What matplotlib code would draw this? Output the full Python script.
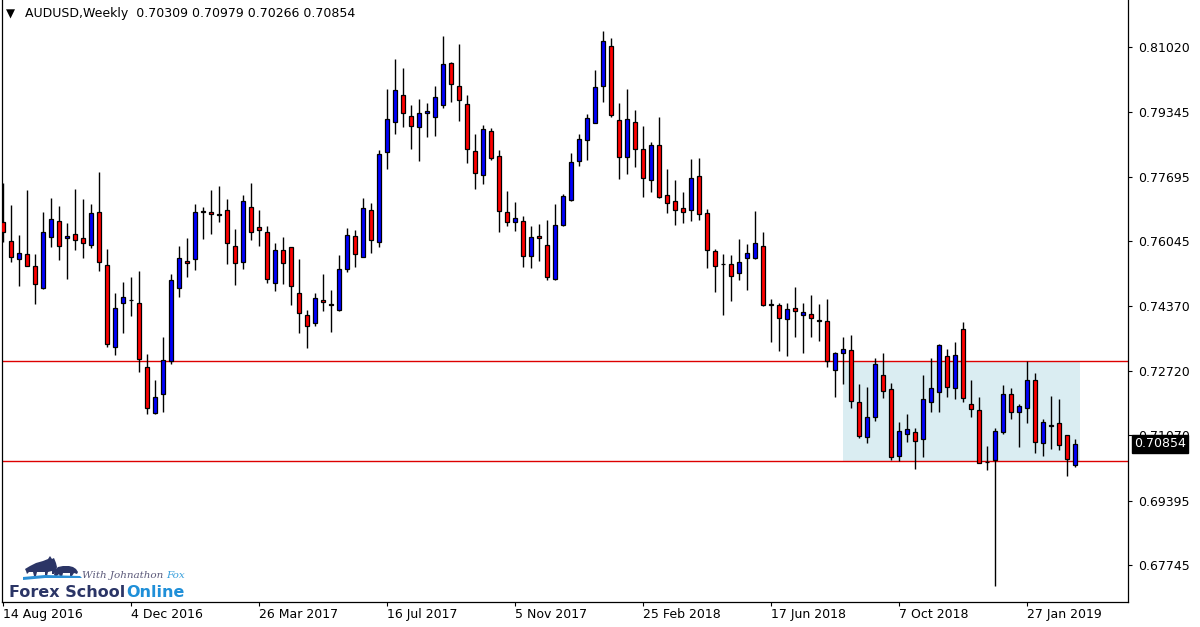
import matplotlib
matplotlib.use("Agg")
import matplotlib.pyplot as plt
import matplotlib.transforms as mtransforms
from matplotlib.patches import Rectangle, Polygon

# AUDUSD weekly candles, one per week starting 14 Aug 2016
opens = [
    0.7654, 0.7605, 0.7559, 0.7571, 0.7541, 0.7484, 0.7615, 0.7656, 0.7613, 0.7623,
    0.7613, 0.7595, 0.7679, 0.7543, 0.7333, 0.7446, 0.7454, 0.7446, 0.7282, 0.7164,
    0.7213, 0.7297, 0.7484, 0.7554, 0.7559, 0.7682, 0.7679, 0.7674, 0.7684, 0.7592,
    0.7551, 0.7692, 0.7641, 0.7628, 0.7497, 0.7582, 0.7590, 0.7472, 0.7415, 0.7395,
    0.7454, 0.7443, 0.7428, 0.7533, 0.7618, 0.7564, 0.7684, 0.7602, 0.7833, 0.7910,
    0.7979, 0.7925, 0.7897, 0.7933, 0.7923, 0.7953, 0.8061, 0.8002, 0.7956, 0.7835,
    0.7774, 0.7887, 0.7823, 0.7679, 0.7654, 0.7656, 0.7566, 0.7618, 0.7595, 0.7507,
    0.7646, 0.7710, 0.7810, 0.7864, 0.7907, 0.8002, 0.8105, 0.7915, 0.7820, 0.7910,
    0.7841, 0.7761, 0.7851, 0.7723, 0.7707, 0.7689, 0.7684, 0.7771, 0.7677, 0.7579,
    0.7546, 0.7546, 0.7523, 0.7561, 0.7561, 0.7592, 0.7443, 0.7441, 0.7405, 0.7433,
    0.7415, 0.7418, 0.7402, 0.7400, 0.7274, 0.7318, 0.7325, 0.7192, 0.7102, 0.7154,
    0.7261, 0.7226, 0.7054, 0.7110, 0.7115, 0.7097, 0.7192, 0.7218, 0.7310, 0.7228,
    0.7379, 0.7187, 0.7172, 0.7038, 0.7044, 0.7115, 0.7213, 0.7167, 0.7177, 0.7249,
    0.7087, 0.7133, 0.7138, 0.7108, 0.70309,
]
highs = [
    0.7753, 0.7697, 0.7620, 0.7736, 0.7571, 0.7679, 0.7715, 0.7695, 0.7651, 0.7738,
    0.7712, 0.7700, 0.7782, 0.7584, 0.7472, 0.7500, 0.7513, 0.7528, 0.7315, 0.7249,
    0.7359, 0.7520, 0.7592, 0.7613, 0.7700, 0.7692, 0.7736, 0.7746, 0.7712, 0.7636,
    0.7723, 0.7753, 0.7684, 0.7643, 0.7600, 0.7615, 0.7590, 0.7559, 0.7428, 0.7472,
    0.7520, 0.7479, 0.7569, 0.7638, 0.7633, 0.7715, 0.7702, 0.7838, 0.7994, 0.8071,
    0.8048, 0.7953, 0.7969, 0.7959, 0.8002, 0.8130, 0.8064, 0.8110, 0.7979, 0.7879,
    0.7902, 0.7894, 0.7838, 0.7733, 0.7705, 0.7669, 0.7643, 0.7648, 0.7659, 0.7700,
    0.7725, 0.7830, 0.7879, 0.7930, 0.8043, 0.8143, 0.8125, 0.7959, 0.7994, 0.7941,
    0.7900, 0.7859, 0.7923, 0.7789, 0.7761, 0.7730, 0.7815, 0.7818, 0.7687, 0.7584,
    0.7571, 0.7569, 0.7610, 0.7597, 0.7682, 0.7628, 0.7456, 0.7446, 0.7446, 0.7487,
    0.7446, 0.7466, 0.7443, 0.7456, 0.7320, 0.7359, 0.7364, 0.7238, 0.7231, 0.7305,
    0.7318, 0.7241, 0.7141, 0.7161, 0.7126, 0.7261, 0.7305, 0.7341, 0.7328, 0.7346,
    0.7397, 0.7249, 0.7205, 0.7079, 0.7126, 0.7236, 0.7228, 0.7187, 0.7297, 0.7267,
    0.7149, 0.7208, 0.7200, 0.7108, 0.70979,
]
lows = [
    0.7602, 0.7551, 0.7490, 0.7540, 0.7443, 0.7482, 0.7590, 0.7556, 0.7507, 0.7582,
    0.7561, 0.7587, 0.7528, 0.7333, 0.7313, 0.7369, 0.7413, 0.7269, 0.7161, 0.7161,
    0.7167, 0.7290, 0.7461, 0.7513, 0.7531, 0.7610, 0.7623, 0.7654, 0.7546, 0.7492,
    0.7533, 0.7607, 0.7592, 0.7497, 0.7477, 0.7495, 0.7441, 0.7369, 0.7331, 0.7387,
    0.7425, 0.7372, 0.7425, 0.7525, 0.7538, 0.7563, 0.7574, 0.7590, 0.7789, 0.7879,
    0.7897, 0.7841, 0.7810, 0.7871, 0.7874, 0.7946, 0.7961, 0.7912, 0.7805, 0.7738,
    0.7751, 0.7812, 0.7628, 0.7643, 0.7630, 0.7538, 0.7536, 0.7554, 0.7505, 0.7506,
    0.7643, 0.7707, 0.7797, 0.7812, 0.7906, 0.7961, 0.7923, 0.7764, 0.7777, 0.7795,
    0.7718, 0.7730, 0.7715, 0.7677, 0.7646, 0.7651, 0.7656, 0.7659, 0.7536, 0.7474,
    0.7415, 0.7451, 0.7505, 0.7479, 0.7559, 0.7438, 0.7346, 0.7323, 0.7310, 0.7359,
    0.7318, 0.7359, 0.7349, 0.7282, 0.7205, 0.7238, 0.7177, 0.7100, 0.7087, 0.7143,
    0.7202, 0.7044, 0.7041, 0.7090, 0.7020, 0.7051, 0.7167, 0.7167, 0.7205, 0.7200,
    0.7192, 0.7154, 0.7035, 0.7018, 0.6721, 0.7110, 0.7149, 0.7077, 0.7138, 0.7061,
    0.7054, 0.7072, 0.7069, 0.7003, 0.70266,
]
closes = [
    0.7628, 0.7564, 0.7574, 0.7541, 0.7495, 0.7628, 0.7661, 0.7592, 0.7618, 0.7607,
    0.7600, 0.7677, 0.7551, 0.7341, 0.7433, 0.7461, 0.7454, 0.7302, 0.7177, 0.7205,
    0.7300, 0.7505, 0.7561, 0.7548, 0.7679, 0.7679, 0.7674, 0.7672, 0.7600, 0.7548,
    0.7707, 0.7628, 0.7633, 0.7507, 0.7582, 0.7548, 0.7490, 0.7420, 0.7387, 0.7459,
    0.7449, 0.7441, 0.7533, 0.7620, 0.7571, 0.7689, 0.7607, 0.7828, 0.7918, 0.7992,
    0.7933, 0.7900, 0.7933, 0.7938, 0.7974, 0.8058, 0.8007, 0.7966, 0.7841, 0.7779,
    0.7892, 0.7818, 0.7682, 0.7654, 0.7664, 0.7566, 0.7615, 0.7613, 0.7513, 0.7646,
    0.7720, 0.7807, 0.7866, 0.7920, 0.8000, 0.8117, 0.7928, 0.7820, 0.7918, 0.7841,
    0.7766, 0.7851, 0.7718, 0.7702, 0.7684, 0.7679, 0.7766, 0.7674, 0.7582, 0.7541,
    0.7546, 0.7515, 0.7551, 0.7574, 0.7600, 0.7441, 0.7441, 0.7408, 0.7431, 0.7425,
    0.7423, 0.7408, 0.7400, 0.7297, 0.7318, 0.7328, 0.7195, 0.7105, 0.7154, 0.7290,
    0.7220, 0.7051, 0.7118, 0.7123, 0.7092, 0.7200, 0.7228, 0.7338, 0.7231, 0.7313,
    0.7202, 0.7174, 0.7036, 0.7038, 0.7118, 0.7213, 0.7167, 0.7182, 0.7249, 0.7090,
    0.7141, 0.7131, 0.7082, 0.7046, 0.70854,
]

date_labels = ["14 Aug 2016", "4 Dec 2016", "26 Mar 2017", "16 Jul 2017", "5 Nov 2017",
               "25 Feb 2018", "17 Jun 2018", "7 Oct 2018", "27 Jan 2019"]
date_label_bars = [0, 16, 32, 48, 64, 80, 96, 112, 128]
price_ticks = [0.81020, 0.79345, 0.77695, 0.76045, 0.74370, 0.72720, 0.71070, 0.69395, 0.67745]

title_text = "AUDUSD,Weekly  0.70309 0.70979 0.70266 0.70854"
last_price = 0.70854
zone_top = 0.7297
zone_bottom = 0.7041
zone_first_bar, zone_last_bar = 105, 134

BULL = "#0000ff"
BEAR = "#ff0000"
LEVEL = "#dd0000"
ZONE = "#daedf2"

W, H = 1200, 627
fig = plt.figure(figsize=(W / 100, H / 100), dpi=100)
fig.patch.set_facecolor("white")
ax = fig.add_axes([2 / W, 25 / H, 1126 / W, 602 / H])

n = len(opens)
xs = list(range(n))

# support / resistance zone
ax.add_patch(Rectangle((zone_first_bar, zone_bottom), zone_last_bar + 0.6 - zone_first_bar,
                       zone_top - zone_bottom, facecolor=ZONE, edgecolor="none", zorder=0))
for lvl in (zone_top, zone_bottom):
    ax.axhline(lvl, color=LEVEL, lw=1.0, zorder=1)

# candles
ax.vlines(xs, lows, highs, color="black", lw=1.0, zorder=2)
bottoms = [min(o, c) for o, c in zip(opens, closes)]
heights = [max(abs(c - o), 0.00003) for o, c in zip(opens, closes)]
colors = [BULL if c >= o else BEAR for o, c in zip(opens, closes)]
ax.bar(xs, heights, bottom=bottoms, width=0.55, color=colors, edgecolor="black",
       linewidth=0.9, zorder=3)

ax.set_xlim(-0.1625, 140.59)
ax.set_ylim(0.66796, 0.82225)

# axes frame like the terminal
ax.spines["top"].set_visible(False)
for side in ("left", "right", "bottom"):
    ax.spines[side].set_linewidth(0.9)

ax.yaxis.tick_right()
ax.set_yticks(price_ticks)
ax.set_yticklabels([f"{p:.5f}" for p in price_ticks])
ax.tick_params(axis="y", direction="out", length=3, width=0.8, pad=4, labelsize=9)

ax.set_xticks(date_label_bars)
ax.set_xticklabels(date_labels)
for lab in ax.get_xticklabels():
    lab.set_horizontalalignment("left")
ax.tick_params(axis="x", direction="out", length=3, width=0.8, pad=1.5, labelsize=9)

# last price marker on the price scale
trans = mtransforms.blended_transform_factory(ax.transAxes, ax.transData)
ax.annotate(f"{last_price:.5f}", xy=(1, last_price), xycoords=trans, xytext=(6, 0),
            textcoords="offset pixels", ha="left", va="center", color="white", fontsize=9,
            bbox=dict(boxstyle="square,pad=0.2", fc="black", ec="black"),
            annotation_clip=False, zorder=10)

# header
fig.text(6 / W, 1 - 14 / H, "\u25bc", fontsize=8.5, va="center", ha="left")
fig.text(25 / W, 1 - 14 / H, title_text, fontsize=9, va="center", ha="left")

# watermark logo
bull = [(25, 569), (30, 566), (36, 563), (43, 561), (48, 559), (50, 556), (52, 559), (54, 558),
        (56, 563), (57, 567), (56, 571), (54, 574), (52, 574), (52, 571), (48, 572), (47, 576),
        (45, 576), (45, 572), (37, 572), (36, 576), (34, 576), (33, 572), (29, 572), (27, 574),
        (26, 571)]
bear = [(54, 575), (55, 570), (58, 567), (63, 566), (69, 566), (73, 567), (76, 569), (78, 572),
        (77, 574), (74, 573), (72, 576), (70, 576), (70, 573), (63, 573), (62, 577), (60, 577),
        (59, 574), (56, 577)]
swoosh = [(23, 577), (45, 575), (80, 576), (82, 578), (45, 578), (23, 580)]
for pts, col in ((bull, "#2b3566"), (bear, "#2b3566"), (swoosh, "#2a8fd6")):
    fig.patches.append(Polygon([(x / W, 1 - y / H) for x, y in pts], closed=True,
                               transform=fig.transFigure, facecolor=col, edgecolor="none"))
t1 = fig.text(9 / W, 1 - 597 / H, "Forex School", fontsize=11.5, fontweight="bold",
              color="#2b3566", ha="left", va="baseline")
fig.canvas.draw()
bb = t1.get_window_extent()
fig.text(bb.x1 / W + 1 / W, 1 - 597 / H, "Online", fontsize=11.5, fontweight="bold",
         color="#1f8fd8", ha="left", va="baseline")
t2 = fig.text(82 / W, 1 - 578 / H, "With Johnathon", fontsize=7.5, style="italic",
              family="DejaVu Serif", color="#5c5a7a", ha="left", va="baseline")
fig.canvas.draw()
bb2 = t2.get_window_extent()
fig.text(bb2.x1 / W + 3 / W, 1 - 578 / H, "Fox", fontsize=7.5, style="italic",
         family="DejaVu Serif", color="#3aa0dc", ha="left", va="baseline")

fig.savefig("out.png", dpi=100, facecolor="white")
